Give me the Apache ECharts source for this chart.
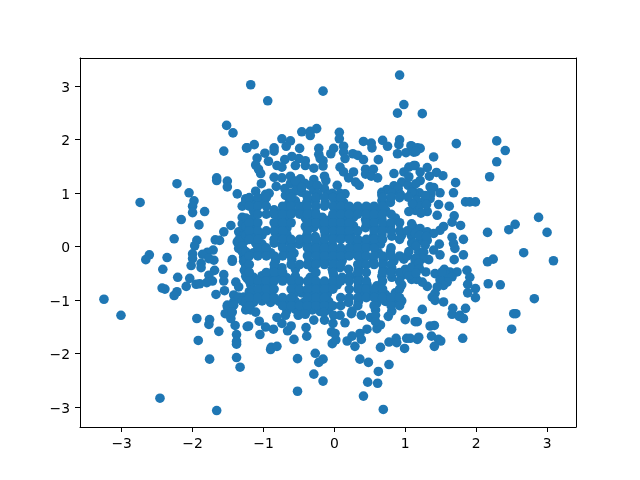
<!DOCTYPE html>
<html>
<head>
<meta charset="utf-8">
<script src="https://cdn.jsdelivr.net/npm/echarts@6/dist/echarts.min.js"></script>
<style>
html, body { margin: 0; padding: 0; background: #fff; }
#mainChart { width: 640px; height: 480px; }
</style>
</head>
<body>
<div id="mainChart"></div>
<script>
var xTicks = [-3, -2, -1, 0, 1, 2, 3];
var yTicks = [-3, -2, -1, 0, 1, 2, 3];

// region by region, [x, y]
var upperLeft = [[-1.18,3.02],[-1.52,2.26],[-1.43,2.12],[-1.24,1.84],[-1.56,1.78],[-1.66,1.28],[-1.51,1.22],[-2.22,1.17],
    [-2.05,1.0],[-1.98,0.85],[-2.0,0.75],[-2.0,0.63],[-1.83,0.65],[-2.74,0.82],[-2.16,0.5],[-1.91,0.40],[-1.66,1.23],
    [-1.51,1.11],[-1.37,0.98],[-1.25,0.89],[-1.30,0.75],[-1.30,0.54],[-1.46,0.39],[-1.35,0.27],[-1.56,0.27],[-1.28,0.33],
    [-1.13,1.90],[-1.23,1.84],[-1.09,1.65],[-1.11,1.52],[-1.07,1.44],[-1.04,1.36],[-1.03,1.17],[-1.11,1.03],[-0.92,0.99]];
var lowerLeft = [[-2.26,0.14],[-1.94,0.11],[-1.97,0.01],[-2.0,-0.14],[-2.0,-0.23],[-2.02,-0.36],[-2.61,-0.16],[-2.66,-0.25],
    [-2.36,-0.21],[-2.42,-0.43],[-2.21,-0.58],[-2.04,-0.60],[-2.09,-0.75],[-1.95,-0.71],[-1.90,-0.70],[-2.39,-0.80],
    [-2.43,-0.78],[-2.22,-0.85],[-2.26,-0.92],[-3.25,-0.99],[-1.67,-0.90],[-1.68,0.12],[-1.62,0.11],[-1.71,-0.07],
    [-1.79,-0.11],[-1.86,-0.15],[-1.88,-0.32],[-1.88,-0.40],[-1.70,-0.26],[-1.77,-0.23],[-1.69,-0.45],[-1.77,-0.54],
    [-1.72,-0.65],[-1.80,-0.68],[-1.56,-0.53],[-1.56,-0.65],[-1.55,-0.83],[-1.44,-0.25],[-1.44,-0.28],[-1.35,-0.04],
    [-1.37,0.08],[-1.25,0.11],[-1.28,-0.2],[-1.25,-0.35],[-1.23,-0.60],[-1.39,-0.67],[-1.35,-0.76],[-1.42,-0.91],
    [-1.28,-0.95],[-1.42,-1.04],[-1.51,-1.10],[-1.25,-1.07],[-3.01,-1.29],[-1.94,-1.35],[-1.76,-1.37],[-1.77,-1.46],
    [-1.63,-1.59],[-1.92,-1.76],[-1.40,-1.48],[-1.23,-1.50],[-1.38,-1.65],[-1.38,-1.78],[-1.38,-1.83],[-1.76,-2.11],
    [-1.38,-2.08],[-1.33,-2.26],[-2.46,-2.84],[-1.66,-3.07],[-1.51,-1.13],[-1.42,-1.10],[-1.54,-1.26],[-1.46,-1.35],
    [-1.44,-1.23],[-1.25,-1.06],[-1.18,-1.19],
    [-1.3,0.18],[-1.35,0.12],[-1.3,0.0],[-1.3,-0.1],[-1.25,-0.15],[-1.28,-0.28],[-1.27,-0.45],[-1.3,0.42],[-1.35,-0.95],[-1.3,-1.02],[-1.2,-0.85],[-1.18,-0.72]];
var upperMiddle = [[-0.94,2.72],[-0.16,2.90],[0.92,3.20],[0.98,2.65],[0.89,2.49],[-0.25,2.20],[-0.34,2.15],[-0.34,2.07],
    [-0.46,2.14],[0.07,2.13],[0.07,2.01],[-0.74,2.01],[-0.62,1.97],[-0.68,1.87],[-0.85,1.84],[-0.85,1.78],[-0.98,1.74],
    [-0.49,1.83],[-0.22,1.83],[-0.22,1.72],[-0.01,1.83],[-0.05,1.73],[0.13,1.87],[0.13,1.76],[0.41,1.96],[0.52,1.93],
    [0.53,1.84],[0.68,1.98],[0.75,1.87],[0.92,1.99],[0.91,1.90],[1.08,1.88],[1.01,1.75],[0.89,1.73],[1.12,1.76],[0.26,1.73],
    [0.33,1.70],[0.15,1.64],[0.41,1.62],[0.62,1.62],[-0.93,1.59],[-0.70,1.62],[-0.81,1.51],[-0.74,1.48],[-0.60,1.68],
    [-0.50,1.64],[-0.41,1.60],[-0.55,1.51],[-0.41,1.51],[-0.29,1.46],[-0.16,1.60],[-0.16,1.50],[-0.20,1.64],[0.08,1.48],
    [0.13,1.39],[0.27,1.39],[0.20,1.28],[0.30,1.20],[0.35,1.14],[0.44,1.44],[0.55,1.44],[0.44,1.35],[0.52,1.31],[0.61,1.28],
    [0.84,1.36],[1.05,1.48],[1.14,1.51],[0.98,1.39],[0.95,1.20],[0.84,1.13],[0.74,1.06],[0.67,1.01],[1.04,1.14],[-0.85,1.29],
    [-0.74,1.28],[-0.62,1.31],[-0.48,1.26],[-0.29,1.25],[-0.14,1.31],[-0.12,1.23],[0.04,1.14],[-0.62,1.17],[-0.53,1.14],
    [-0.34,1.14],[-0.14,1.08],[-0.69,0.95],[-0.55,1.03],[-0.46,1.01],[-0.29,1.04],[-0.03,0.99],[0.15,0.98],
    [-0.55,1.22],[-0.42,1.18],[-0.46,1.10],[-0.24,1.14],[-0.7,1.08],[-0.82,1.12],[1.05,1.30],[1.1,1.05],[0.9,1.08],[1.2,1.0]];
var core = [[-0.97,0.97],[-0.62,0.99],[-0.39,0.96],[-0.24,0.99],[-0.08,0.97],[0.08,0.99],[0.67,0.96],[0.81,0.99],[0.93,0.97],[1.12,0.99],
    [-1.25,0.84],[-1.11,0.82],[-0.99,0.84],[-0.64,0.81],[-0.55,0.85],[-0.39,0.82],[-0.27,0.84],[-0.13,0.81],[0.01,0.84],[0.13,0.82],[0.67,0.85],[0.79,0.82],
    [-1.14,0.66],[-0.85,0.68],[-0.74,0.65],[-0.62,0.68],[-0.50,0.66],[-0.39,0.69],[-0.27,0.65],[0.01,0.68],[0.13,0.66],[0.25,0.69],[0.37,0.65],[0.48,0.68],[0.60,0.66],[0.72,0.68],
    [-1.25,0.53],[-1.16,0.51],[-0.78,0.53],[-0.67,0.50],[-0.41,0.53],[-0.29,0.51],[-0.17,0.54],[-0.06,0.50],[0.06,0.53],[0.18,0.51],[0.27,0.54],[0.44,0.50],[0.55,0.53],[0.67,0.51],[0.86,0.53],
    [-1.25,0.37],[-1.14,0.35],[-0.78,0.37],[-0.67,0.34],[-0.41,0.37],[-0.29,0.35],[-0.17,0.38],[-0.06,0.34],[0.06,0.37],[0.18,0.35],[0.27,0.38],[0.44,0.35],[0.55,0.37],[0.67,0.34],[0.79,0.37],[1.12,0.35],
    [-1.25,0.21],[-1.14,0.19],[-1.02,0.21],[-0.78,0.19],[-0.67,0.22],[-0.39,0.20],[-0.27,0.18],[-0.13,0.21],[-0.01,0.19],[0.11,0.22],[0.23,0.20],[0.55,0.18],[0.67,0.21],[0.81,0.19],[0.95,0.21],[1.09,0.19],
    [-1.11,0.06],[-1.02,0.04],[-0.85,0.06],[-0.74,0.03],[-0.62,0.06],[-0.50,0.04],[-0.39,0.07],[-0.27,0.03],[-0.15,0.06],[-0.03,0.04],[0.30,0.06],[0.41,0.03],[0.53,0.06],[0.65,0.04],[1.09,0.06],
    [-1.25,-0.10],[-1.14,-0.12],[-1.02,-0.09],[-0.90,-0.12],[-0.69,-0.10],[-0.57,-0.13],[-0.31,-0.10],[-0.20,-0.12],[-0.08,-0.09],[0.04,-0.12],[0.15,-0.10],[0.27,-0.13],[0.39,-0.10],[0.62,-0.12],[0.79,-0.10],
    [-1.25,-0.25],[-0.83,-0.27],[-0.60,-0.25],[-0.36,-0.28],[-0.24,-0.25],[-0.13,-0.27],[-0.01,-0.24],[0.11,-0.27],[0.41,-0.25],[0.55,-0.28],[0.69,-0.25],[0.84,-0.27],[0.98,-0.24],[1.14,-0.27],
    [-1.25,-0.41],[-0.85,-0.43],[-0.74,-0.40],[-0.55,-0.43],[-0.31,-0.41],[-0.03,-0.43],[0.08,-0.40],[0.20,-0.43],[0.34,-0.41],[0.69,-0.44],[0.81,-0.41],[1.0,-0.43],[1.12,-0.40],
    [-1.25,-0.56],[-1.14,-0.58],[-1.02,-0.55],[-0.90,-0.58],[-0.78,-0.56],[-0.67,-0.59],[-0.55,-0.56],[-0.34,-0.58],[-0.01,-0.55],[0.11,-0.58],[0.22,-0.56],[0.34,-0.59],[0.67,-0.56],[0.81,-0.58],[0.95,-0.55],
    [-1.04,-0.72],[-0.93,-0.74],[-0.57,-0.71],[-0.34,-0.74],[-0.22,-0.72],[-0.08,-0.75],[0.04,-0.72],[0.34,-0.74],[0.46,-0.71],[0.60,-0.74],[0.95,-0.72],
    [-1.16,-0.87],[-1.04,-0.89],[-0.93,-0.86],[-0.57,-0.89],[-0.46,-0.87],[-0.34,-0.90],[-0.22,-0.87],[-0.10,-0.89],[0.37,-0.86],[0.48,-0.89],[0.60,-0.87],[0.72,-0.90],[0.86,-0.87],
    [-1.25,-1.03],[-1.14,-1.05],[-1.02,-1.02],[-0.90,-1.05],[-0.78,-1.03],[-0.67,-1.06],[-0.55,-1.03],[-0.43,-1.05],[-0.31,-1.02],[-0.20,-1.05],[-0.08,-1.03],[0.20,-1.05],[0.34,-1.03],[0.60,-1.06],[0.72,-1.03],[0.84,-1.05],[0.95,-1.02],
    [-1.25,-1.19],[-0.67,-1.21],[-0.55,-1.18],[-0.43,-1.21],[-0.31,-1.19],[-0.20,-1.22],[-0.08,-1.19],[0.25,-1.21],[0.58,-1.19],[0.81,-1.21]];
// second pass through the dense middle
var coreFill = [[-1.20,0.91],[-1.08,0.91],[-0.96,0.91],[-0.61,0.91],[-0.38,0.91],[-0.26,0.91],[-0.14,0.91],[-0.02,0.91],[0.09,0.91],[0.68,0.91],[0.80,0.91],[0.92,0.91],
    [-1.20,0.75],[-1.08,0.75],[-0.96,0.75],[-0.73,0.75],[-0.61,0.75],[-0.49,0.75],[-0.38,0.75],[-0.26,0.75],[-0.14,0.75],[-0.02,0.75],[0.09,0.75],[0.21,0.75],[0.33,0.75],[0.45,0.75],[0.56,0.75],[0.68,0.75],
    [-1.08,0.60],[-0.96,0.60],[-0.85,0.60],[-0.73,0.60],[-0.61,0.60],[-0.49,0.60],[-0.38,0.60],[-0.26,0.60],[-0.02,0.60],[0.09,0.60],[0.21,0.60],[0.33,0.60],[0.45,0.60],[0.56,0.60],[0.68,0.60],[0.80,0.60],
    [-1.20,0.44],[-1.08,0.44],[-0.85,0.44],[-0.73,0.44],[-0.61,0.44],[-0.38,0.44],[-0.26,0.44],[-0.14,0.44],[-0.02,0.44],[0.09,0.44],[0.21,0.44],[0.45,0.44],[0.56,0.44],[0.68,0.44],[0.80,0.44],[0.92,0.44],
    [-1.20,0.29],[-1.08,0.29],[-0.96,0.29],[-0.85,0.29],[-0.73,0.29],[-0.38,0.29],[-0.14,0.29],[-0.02,0.29],[0.09,0.29],[0.21,0.29],[0.33,0.29],[0.56,0.29],[0.68,0.29],[0.80,0.29],[0.92,0.29],[1.03,0.29],
    [-1.20,0.13],[-1.08,0.13],[-0.85,0.13],[-0.73,0.13],[-0.61,0.13],[-0.49,0.13],[-0.38,0.13],[-0.26,0.13],[-0.14,0.13],[-0.02,0.13],[0.09,0.13],[0.21,0.13],[0.33,0.13],[0.45,0.13],[0.56,0.13],[0.68,0.13],[0.92,0.13],
    [-1.08,-0.03],[-0.96,-0.03],[-0.73,-0.03],[-0.61,-0.03],[-0.38,-0.03],[-0.26,-0.03],[-0.14,-0.03],[-0.02,-0.03],[0.09,-0.03],[0.21,-0.03],[0.33,-0.03],[0.45,-0.03],[0.56,-0.03],[0.80,-0.03],
    [-1.20,-0.18],[-1.08,-0.18],[-0.96,-0.18],[-0.85,-0.18],[-0.73,-0.18],[-0.61,-0.18],[-0.38,-0.18],[-0.26,-0.18],[-0.14,-0.18],[-0.02,-0.18],[0.09,-0.18],[0.21,-0.18],[0.33,-0.18],[0.45,-0.18],[0.56,-0.18],[0.68,-0.18],[0.80,-0.18],[0.92,-0.18],[1.03,-0.18],
    [-1.20,-0.34],[-0.85,-0.34],[-0.61,-0.34],[-0.49,-0.34],[-0.38,-0.34],[-0.26,-0.34],[-0.14,-0.34],[-0.02,-0.34],[0.09,-0.34],[0.33,-0.34],[0.45,-0.34],[0.56,-0.34],[0.68,-0.34],[0.80,-0.34],
    [-1.20,-0.49],[-0.96,-0.49],[-0.85,-0.49],[-0.73,-0.49],[-0.26,-0.49],[-0.02,-0.49],[0.33,-0.49],[0.45,-0.49],[0.68,-0.49],[0.80,-0.49],[0.92,-0.49],[1.03,-0.49],
    [-1.20,-0.65],[-1.08,-0.65],[-0.96,-0.65],[-0.85,-0.65],[-0.73,-0.65],[-0.61,-0.65],[-0.49,-0.65],[-0.38,-0.65],[-0.26,-0.65],[-0.14,-0.65],[-0.02,-0.65],[0.09,-0.65],[0.21,-0.65],[0.33,-0.65],[0.45,-0.65],[0.68,-0.65],[0.92,-0.65],
    [-1.08,-0.80],[-0.96,-0.80],[-0.85,-0.80],[-0.61,-0.80],[-0.49,-0.80],[-0.38,-0.80],[-0.26,-0.80],[-0.14,-0.80],[-0.02,-0.80],[0.21,-0.80],[0.33,-0.80],[0.45,-0.80],[0.56,-0.80],[0.68,-0.80],[0.92,-0.80],
    [-1.20,-0.96],[-1.08,-0.96],[-0.96,-0.96],[-0.85,-0.96],[-0.73,-0.96],[-0.61,-0.96],[-0.38,-0.96],[-0.26,-0.96],[-0.14,-0.96],[0.09,-0.96],[0.21,-0.96],[0.33,-0.96],[0.45,-0.96],[0.56,-0.96],[0.68,-0.96],[0.80,-0.96],[0.92,-0.96],
    [-1.20,-1.11],[-0.73,-1.11],[-0.61,-1.11],[-0.49,-1.11],[-0.38,-1.11],[-0.26,-1.11],[-0.14,-1.11],[-0.02,-1.11],[0.09,-1.11],[0.33,-1.11],[0.56,-1.11],[0.80,-1.11],[0.92,-1.11]];
var lowerMiddle = [[-0.52,-2.71],[0.41,-2.80],[0.69,-3.05],[-0.29,-2.39],[-0.16,-2.52],[0.47,-2.54],[0.61,-2.56],[0.62,-2.34],
    [0.77,-2.21],[0.48,-2.17],[0.36,-2.11],[-0.52,-2.10],[-0.27,-2.0],[-0.16,-2.11],[-0.22,-2.17],[-0.90,-1.93],[-0.89,-1.89],
    [-0.81,-1.87],[-0.57,-1.74],[-0.39,-1.68],[-0.40,-1.52],[-0.03,-1.82],[0.02,-1.75],[0.18,-1.77],[0.29,-1.87],[0.38,-1.74],
    [0.25,-1.68],[0.36,-1.63],[0.46,-1.55],[0.65,-1.89],[0.77,-1.79],[0.87,-1.72],[0.88,-1.80],[0.99,-1.91],[1.02,-1.72],
    [1.00,-1.37],[1.14,-1.41],[-1.05,-1.65],[-1.06,-1.40],[-1.21,-1.49],[-0.97,-1.51],[-0.86,-1.55],[-0.74,-1.44],[-0.66,-1.58],
    [-0.61,-1.49],[-0.81,-1.33],[-0.69,-1.29],[-0.51,-1.29],[-0.41,-1.27],[-0.29,-1.38],[-0.14,-1.38],[-0.15,-1.24],[-0.02,-1.44],
    [-0.04,-1.60],[0.01,-1.63],[0.08,-1.29],[0.15,-1.43],[0.24,-1.26],[0.38,-1.29],[0.51,-1.33],[0.58,-1.29],[0.60,-1.54],
    [0.65,-1.47],[0.76,-1.31],[0.58,-1.41],[-1.11,-1.23],[-0.01,-1.29]];
var upperRight = [[1.24,2.48],[1.72,1.92],[2.29,1.97],[2.41,1.79],[2.29,1.58],[2.19,1.30],[1.40,1.67],[1.09,1.87],[1.17,1.84],
    [1.21,1.83],[1.15,1.77],[1.12,1.51],[1.31,1.47],[1.21,1.39],[1.44,1.38],[1.53,1.32],[1.34,1.31],[1.21,1.23],[1.15,1.17],
    [1.71,1.19],[1.35,1.11],[1.40,1.10],[1.49,1.00],[1.68,1.00],[1.09,1.01],[1.36,0.97],[1.85,0.83],[1.91,0.83],[1.99,0.83],
    [1.62,0.75],[1.47,0.78],[1.45,0.58],[1.69,0.57],[1.31,0.65],[1.35,0.89],[1.26,0.83],[1.14,0.67],[1.16,0.86],[1.28,0.95],
    [2.88,0.54],[2.55,0.41],[2.46,0.31],[3.00,0.26],[2.16,0.26],[1.78,0.39],[1.66,0.45],[1.54,0.37],[1.49,0.30],[1.09,0.42],
    [1.21,0.33],[1.31,0.27],[1.40,0.24],[1.14,0.24],
    [1.2,0.75],[1.1,0.8],[1.05,0.65],[1.22,0.62],[1.3,0.78],[1.04,0.92]];
var lowerRight = [[1.82,0.13],[1.66,0.17],[1.68,0.05],[1.48,0.04],[1.40,-0.07],[1.49,-0.16],[1.70,-0.04],[1.82,-0.16],[1.69,-0.25],
    [2.67,-0.12],[3.09,-0.27],[2.24,-0.24],[2.16,-0.29],[1.87,-0.45],[1.91,-0.58],[1.88,-0.71],[2.17,-0.70],[2.34,-0.72],[1.99,-0.79],
    [1.88,-0.87],[1.99,-0.96],[2.82,-0.98],[2.56,-1.26],[2.53,-1.26],[1.54,-1.04],[1.42,-0.88],[1.38,-0.95],[1.42,-1.01],[1.31,-0.75],
    [1.24,-0.67],[1.16,-0.62],[1.09,-0.62],[1.29,-0.48],[1.42,-0.51],[1.55,-0.43],[1.63,-0.48],[1.73,-0.48],[1.59,-0.54],[1.66,-0.57],
    [1.59,-0.67],[1.49,-0.63],[1.54,-0.73],[1.45,-0.76],[1.52,-0.48],[1.24,-1.18],[1.67,-1.16],[1.85,-1.16],[1.66,-1.27],[1.77,-1.29],
    [1.76,-1.31],[1.82,-1.35],[1.17,-1.41],[1.35,-1.49],[1.41,-1.48],[2.50,-1.55],[1.37,-1.68],[1.19,-1.70],[1.17,-1.74],[1.47,-1.74],
    [1.50,-1.77],[1.81,-1.72],[1.41,-1.87],[1.07,-1.72],[1.21,0.11],[1.31,0.11],[1.12,0.05],[1.19,-0.11],[1.26,-0.11],[1.33,-0.25],
    [1.24,-0.23],[1.14,-0.23],[1.09,-0.39],[1.19,-0.32],
    [1.2,0.2],[1.3,0.18],[1.15,0.0],[1.28,0.02],[1.05,-0.1],[1.2,-0.42],[1.05,-0.55],[1.15,-0.5]];

var allPoints = upperLeft.concat(lowerLeft, upperMiddle, core, coreFill, lowerMiddle, upperRight, lowerRight);

var xMin = -3.588, xMax = 3.408, yMin = -3.378, yMax = 3.52;

var n = echarts.init(document.getElementById("mainChart"));

function tickText(v) {
    return String(v).replace("-", "\u2212");
}

function axisFor(ticks, min, max) {
    return {
        type: "value",
        min: min,
        max: max,
        splitLine: { show: false },
        axisLine: { show: true, onZero: false, lineStyle: { color: "#000", width: 1 } },
        axisTick: { show: true, length: 5, customValues: ticks, lineStyle: { color: "#000", width: 1 } },
        axisLabel: {
            show: true,
            customValues: ticks,
            margin: 10,
            color: "#000",
            fontSize: 13.9,
            fontFamily: "DejaVu Sans",
            formatter: tickText
        }
    };
}

// top and right edges of the frame
function edgeAxis(min, max, position) {
    return {
        type: "value",
        position: position,
        min: min,
        max: max,
        splitLine: { show: false },
        axisLine: { show: true, onZero: false, lineStyle: { color: "#000", width: 1 } },
        axisTick: { show: false },
        axisLabel: { show: false }
    };
}

var yAxisMain = axisFor(yTicks, yMin, yMax);
// the y labels sit a little lower than the default middle alignment
yAxisMain.axisLabel.verticalAlign = "top";
yAxisMain.axisLabel.lineHeight = 5;

n.setOption({
    backgroundColor: "#fff",
    animation: false,
    grid: { left: 80, right: 64, top: 58, bottom: 53 },
    xAxis: [axisFor(xTicks, xMin, xMax), edgeAxis(xMin, xMax, "top")],
    yAxis: [yAxisMain, edgeAxis(yMin, yMax, "right")],
    series: [{
        type: "scatter",
        data: allPoints,
        symbol: "circle",
        symbolSize: 9.6,
        itemStyle: { color: "#1f77b4", opacity: 1 }
    }]
});
</script>
</body>
</html>
